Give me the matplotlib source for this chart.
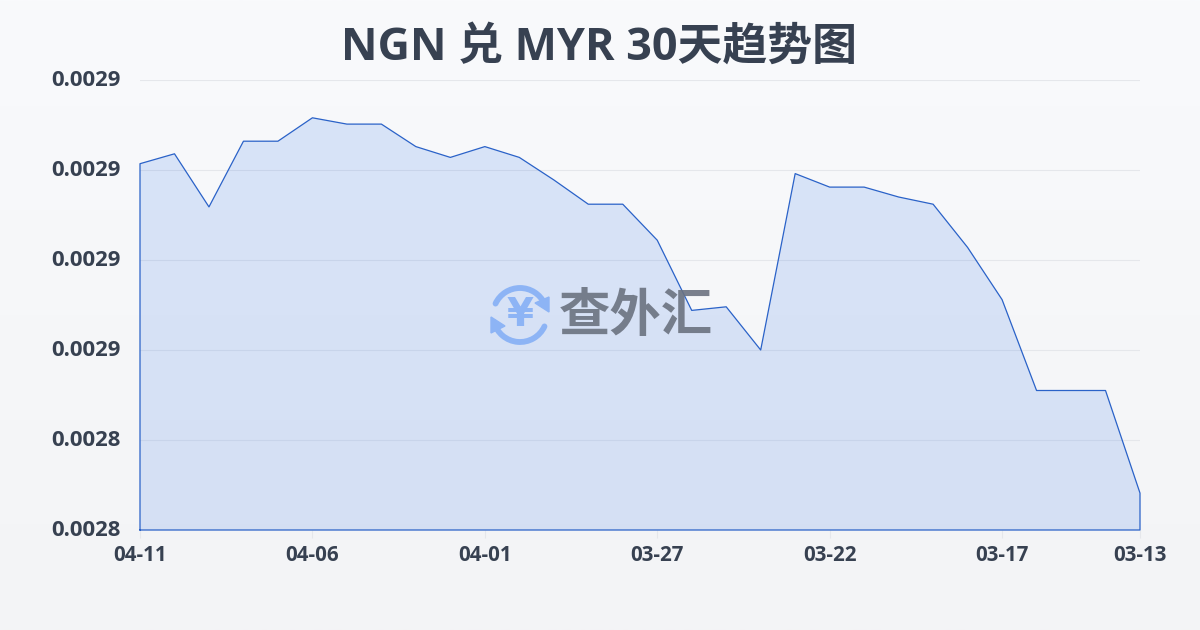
import numpy as np
import matplotlib
matplotlib.use("Agg")
import matplotlib.pyplot as plt
from matplotlib.patches import Arc, Polygon
from matplotlib.transforms import ScaledTranslation

plt.rcParams["font.family"] = ["Open Sans", "Noto Sans CJK SC", "DejaVu Sans"]

title = "NGN 兑 MYR 30天趋势图"
rates = [
    0.0028807, 0.0028818, 0.0028759, 0.0028832, 0.0028832, 0.0028858,
    0.0028851, 0.0028851, 0.0028826, 0.0028814, 0.0028826, 0.0028814,
    0.0028789, 0.0028762, 0.0028762, 0.0028722, 0.0028644, 0.0028648,
    0.0028600, 0.0028796, 0.0028781, 0.0028781, 0.0028770, 0.0028762,
    0.0028714, 0.0028656, 0.0028555, 0.0028555, 0.0028555, 0.0028441,
]
x_positions = [0, 5, 10, 15, 20, 25, 29]
x_labels = ["04-11", "04-06", "04-01", "03-27", "03-22", "03-17", "03-13"]
y_positions = [0.00284, 0.00285, 0.00286, 0.00287, 0.00288, 0.00289]
y_labels = ["0.0028", "0.0028", "0.0029", "0.0029", "0.0029", "0.0029"]

TEXT = "#374151"
BLUE = "#2a62c8"
W, H = 1200, 630


def draw_logo(fig):
    """Watermark: circular arrows with a yen sign, then the brand name."""
    logo = fig.add_axes([0, 0, 1, 1], zorder=5)
    logo.set_xlim(0, W)
    logo.set_ylim(H, 0)
    logo.axis("off")
    logo.patch.set_alpha(0)
    c = "#8db4f5"
    cx, cy = 520, 315
    logo.add_patch(Arc((cx, cy), 54, 54, theta1=205, theta2=335, color=c, lw=4.2, capstyle="round"))
    logo.add_patch(Arc((cx, cy), 54, 54, theta1=25, theta2=165, color=c, lw=4.2, capstyle="round"))
    logo.add_patch(Polygon([[549, 297], [549, 312], [535, 303]], color=c))
    logo.add_patch(Polygon([[491, 317], [491, 333], [505, 326]], color=c))
    logo.text(520, 315, "¥", fontsize=28, fontweight="bold", color=c,
              ha="center", va="center", family="DejaVu Sans")
    logo.text(636, 315, "查外汇", fontsize=37, fontweight="bold", color="#6b7280", alpha=0.9,
              ha="center", va="center", family=["Noto Sans CJK SC", "DejaVu Sans"])


def main():
    fig = plt.figure(figsize=(W / 100, H / 100), dpi=100)

    # page background, slightly darker towards the bottom
    bg = fig.add_axes([0, 0, 1, 1], zorder=0)
    grad = np.linspace(0, 1, 256).reshape(-1, 1, 1)
    top = np.array([0xf9, 0xfa, 0xfc]) / 255
    bottom = np.array([0xf3, 0xf4, 0xf6]) / 255
    bg.imshow(top + (bottom - top) * grad, aspect="auto", extent=[0, 1, 0, 1])
    bg.axis("off")

    ax = fig.add_axes([140 / W, 1 - 530 / H, 1000 / W, 450 / H], zorder=2)
    ax.patch.set_alpha(0)
    xs = np.arange(len(rates))
    ax.fill_between(xs, rates, y_positions[0], facecolor=(0.15, 0.42, 0.90, 0.15),
                    edgecolor="none", zorder=2)
    outline_x = np.r_[xs[0], xs, xs[-1], xs[0]]
    outline_y = np.r_[y_positions[0], rates, y_positions[0], y_positions[0]]
    ax.plot(outline_x, outline_y, color=BLUE, lw=0.9, zorder=3, clip_on=False)

    ax.set_xlim(0, len(rates) - 1)
    ax.set_ylim(y_positions[0], y_positions[-1])
    ax.set_xticks(x_positions, x_labels, fontweight="bold", fontsize=14.8)
    ax.set_yticks(y_positions, y_labels, fontweight="bold", fontsize=15.9)
    ax.grid(axis="y", color="#e5e7eb", lw=0.8, zorder=1)
    ax.tick_params(axis="x", length=6, width=0.8, color="#e5e7eb", labelcolor=TEXT, pad=5)
    ax.tick_params(axis="y", length=0, labelcolor=TEXT, pad=14)
    # y labels sit a little above their gridlines
    lift = ScaledTranslation(0, 1.5 / 100, fig.dpi_scale_trans)
    for label in ax.get_yticklabels():
        label.set_transform(label.get_transform() + lift)
    for spine in ax.spines.values():
        spine.set_visible(False)

    fig.text(599 / W, 1 - 48 / H, title, fontsize=32.3, fontweight="bold", color=TEXT,
             ha="center", va="center", zorder=6)

    draw_logo(fig)
    fig.savefig("out.png", dpi=100)


if __name__ == "__main__":
    main()
